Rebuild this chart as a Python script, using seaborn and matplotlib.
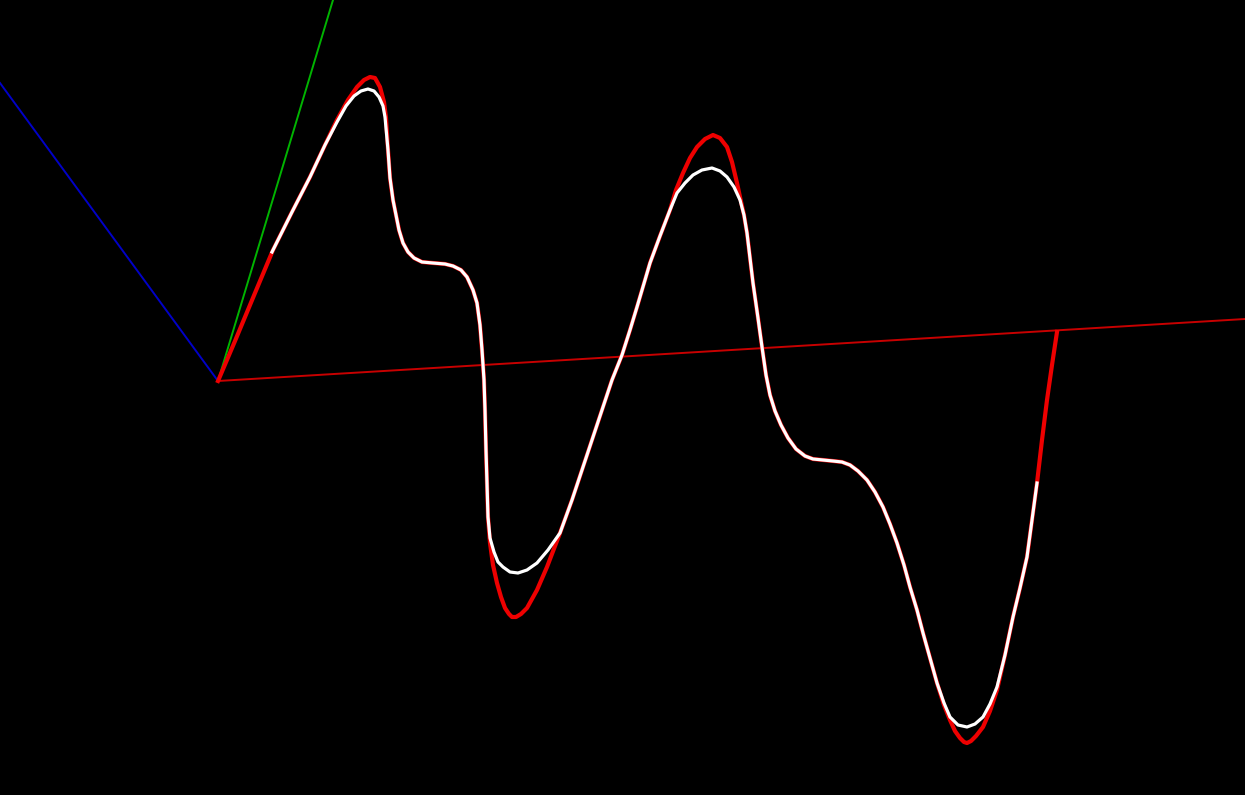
import numpy as np
import pandas as pd
import seaborn as sns
from matplotlib import pyplot as plt

# screen coordinates (px)
axis_x = [218, 1245]
axis_x_y = [381, 319]
axis_y = [218, 333]
axis_y_y = [381, 0]
axis_z = [218, 0]
axis_z_y = [381, 83]

red_x = [218, 235, 255, 273, 292, 310, 325, 337, 348, 357, 364, 370, 375, 380, 384, 386,
         388, 390, 393, 396, 399, 403, 408, 414, 422, 433, 445, 453, 461, 467, 473, 477, 480,
         482, 484, 485, 486, 488, 490, 493, 497, 501, 505, 509, 512, 516, 521, 527, 537, 547, 560,
         572, 583, 593, 603, 612, 622, 630, 637, 645, 650, 660, 670, 676, 683, 690, 697,
         705, 713, 720, 727, 732, 737, 740, 744, 747, 750, 753, 758, 762, 766, 770, 775,
         781, 788, 796, 805, 813, 823, 833, 842, 850, 858, 867, 875, 883, 890, 897, 904,
         910, 917, 923, 930, 937, 944, 950, 955, 960, 964, 967, 971, 976, 983, 990, 997, 1005, 1013,
         1020, 1027, 1032, 1037, 1042, 1047, 1052, 1057]
red_y = [381, 341, 293, 250, 212, 177, 145, 120, 100, 87, 80, 77, 78, 87, 102, 118,
         150, 178, 200, 215, 230, 243, 252, 258, 262, 263, 264, 266, 270, 277, 290, 303, 325,
         350, 380, 410, 450, 517, 543, 565, 583, 597, 608, 614, 617, 617, 614, 608, 590, 567, 533,
         500, 467, 437, 407, 380, 355, 330, 307, 280, 263, 236, 210, 190, 173, 158, 147,
         139, 135, 138, 147, 162, 183, 197, 215, 233, 258, 283, 318, 347, 375, 395, 411,
         425, 438, 449, 456, 459, 460, 461, 462, 465, 471, 480, 492, 507, 524, 543, 565,
         587, 610, 633, 658, 683, 705, 720, 731, 738, 742, 743, 741, 736, 727, 711, 690, 655, 617,
         588, 557, 520, 483, 440, 400, 365, 332]

white_x = [272, 292, 310, 325, 337, 346, 354, 361, 368, 374, 379, 383, 385, 388, 390, 393,
           396, 399, 403, 408, 414, 422, 433, 445, 453, 461, 467, 473, 477, 480, 482, 484, 485,
           486, 488, 490, 494, 498, 503, 510, 518, 527, 537, 548, 560, 572, 583, 593, 603,
           612, 622, 630, 637, 645, 650, 660, 670, 677, 685, 693, 702, 712, 720, 727, 734,
           740, 744, 747, 750, 753, 758, 762, 766, 770, 775, 781, 788, 796, 805, 813, 823,
           833, 842, 850, 858, 867, 875, 883, 890, 897, 904, 910, 917, 923, 930, 937, 944,
           950, 958, 967, 975, 983, 990, 997, 1005, 1013, 1020, 1027, 1032, 1037]
white_y = [252, 212, 177, 145, 122, 106, 96, 91, 89, 91, 97, 106, 117, 150, 178, 200,
           215, 230, 243, 252, 258, 262, 263, 264, 266, 270, 277, 290, 303, 325, 350, 380, 410,
           450, 517, 538, 552, 562, 567, 572, 573, 570, 563, 550, 533, 500, 467, 437, 407,
           380, 355, 330, 307, 280, 263, 236, 210, 193, 183, 175, 170, 168, 171, 177, 187,
           200, 215, 233, 258, 283, 318, 347, 375, 395, 411, 425, 438, 449, 456, 459, 460,
           461, 462, 465, 471, 480, 492, 507, 524, 543, 565, 587, 610, 633, 658, 683, 703,
           717, 725, 727, 724, 717, 704, 687, 655, 617, 588, 557, 520, 483]


def draw_line(ax, xs, ys, color, lw):
    df = pd.DataFrame({"x": xs, "y": ys})
    sns.lineplot(data=df, x="x", y="y", sort=False, estimator=None,
                 color=color, linewidth=lw, ax=ax)


def main():
    fig = plt.figure(figsize=(12.45, 7.95), dpi=100, facecolor="black")
    ax = fig.add_axes([0, 0, 1, 1])
    ax.set_facecolor("black")

    draw_line(ax, axis_z, axis_z_y, "#0000c8", 1.4)
    draw_line(ax, axis_y, axis_y_y, "#00b400", 1.4)
    draw_line(ax, axis_x, axis_x_y, "#c80000", 1.4)
    draw_line(ax, red_x, red_y, "#ee0000", 3.0)
    draw_line(ax, white_x, white_y, "white", 2.3)

    ax.set_xlim(0, 1245)
    ax.set_ylim(795, 0)
    ax.axis("off")
    fig.savefig("out.png", dpi=100, facecolor="black")


if __name__ == '__main__':
    main()
